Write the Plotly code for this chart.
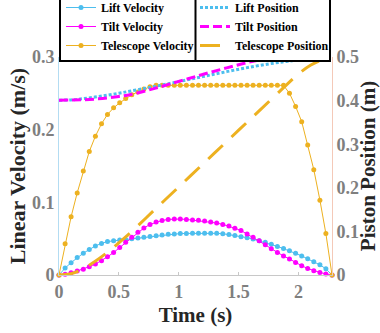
import plotly.graph_objects as go

# ---- data ----
time = [0, 0.051, 0.101, 0.152, 0.203, 0.253, 0.304, 0.355, 0.405, 0.456,
        0.507, 0.557, 0.608, 0.659, 0.709, 0.76, 0.811, 0.861, 0.912, 0.963,
        1.013, 1.064, 1.115, 1.165, 1.216, 1.267, 1.317, 1.368, 1.419, 1.469,
        1.52, 1.571, 1.621, 1.672, 1.723, 1.773, 1.824, 1.875, 1.925, 1.976,
        2.027, 2.077, 2.128, 2.179, 2.229, 2.28]

lift_vel = [0, 0.0095, 0.017, 0.024, 0.030, 0.035, 0.040, 0.0435, 0.046, 0.047,
            0.048, 0.049, 0.050, 0.051, 0.052, 0.053, 0.054, 0.055, 0.056, 0.0565,
            0.057, 0.0572, 0.0574, 0.0575, 0.0575, 0.0575, 0.0573, 0.0568, 0.0556, 0.0542,
            0.0528, 0.0514, 0.0494, 0.047, 0.045, 0.0422, 0.0393, 0.0363, 0.0333, 0.030,
            0.0263, 0.0222, 0.0183, 0.014, 0.0085, 0]

tilt_vel = [0, 0.0012, 0.003, 0.0055, 0.008, 0.0115, 0.015, 0.0197, 0.025, 0.031,
            0.038, 0.045, 0.052, 0.0587, 0.0646, 0.0696, 0.0728, 0.075, 0.0765, 0.077,
            0.077, 0.0765, 0.0756, 0.0752, 0.0742, 0.0728, 0.0715, 0.0696, 0.0673, 0.0643,
            0.0612, 0.0565, 0.0518, 0.0472, 0.0415, 0.0362, 0.031, 0.0262, 0.022, 0.0172,
            0.0128, 0.0089, 0.0057, 0.0035, 0.0015, 0]

tele_vel = [0, 0.043, 0.080, 0.113, 0.143, 0.170, 0.191, 0.208, 0.221, 0.230,
            0.237, 0.243, 0.248, 0.252, 0.256, 0.259, 0.261, 0.261, 0.261, 0.261,
            0.261, 0.261, 0.261, 0.261, 0.261, 0.261, 0.261, 0.261, 0.261, 0.261,
            0.261, 0.261, 0.261, 0.261, 0.261, 0.261, 0.261, 0.261, 0.250, 0.232,
            0.211, 0.179, 0.145, 0.103, 0.057, 0]

pos_time = [0, 0.1, 0.2, 0.3, 0.4, 0.5, 0.6, 0.8, 1.0, 1.2, 1.4, 1.6, 1.8, 1.9,
            2.0, 2.1, 2.2, 2.28]
lift_pos = [0.401, 0.4016, 0.4044, 0.408, 0.4122, 0.417, 0.422, 0.4324, 0.4435,
            0.455, 0.4664, 0.477, 0.4861, 0.4898, 0.4932, 0.4958, 0.4978, 0.4988]
tilt_pos = [0.401, 0.4013, 0.402, 0.4035, 0.406, 0.4095, 0.414, 0.428, 0.444,
            0.460, 0.475, 0.489, 0.499, 0.503, 0.505, 0.506, 0.507, 0.507]
tele_pos = [0, 0.003, 0.014, 0.031, 0.051, 0.074, 0.098, 0.150, 0.202, 0.254,
            0.306, 0.358, 0.410, 0.436, 0.461, 0.481, 0.494, 0.500]

x_ticks = [0, 0.5, 1, 1.5, 2]
x_ticktext = ["0", "0.5", "1", "1.5", "2"]
yl_ticks = [0, 0.1, 0.2, 0.3]
yl_ticktext = ["0", "0.1", "0.2", "0.3"]
yr_ticks = [0, 0.1, 0.2, 0.3, 0.4, 0.5]
yr_ticktext = ["0", "0.1", "0.2", "0.3", "0.4", "0.5"]

# ---- style ----
C_LIFT = "#4DBEEE"
C_TILT = "#FF00FF"
C_TELE = "#EDB120"
FONT = "Times New Roman, Liberation Serif, serif"
TICKFONT = dict(family=FONT, size=18, color="#7f7f7f", weight="bold")
TITLEFONT = dict(family=FONT, size=21, color="#262626", weight="bold")
YTITLEFONT = dict(family=FONT, size=22, color="#262626", weight="bold")

PLOT_H = 333 - 57 - 58  # plot-area height in px
LEG_BOTTOM = 1 - 5 / PLOT_H

fig = go.Figure()

def vel(x, y, name, c):
    return go.Scatter(x=x, y=y, name=name, mode="lines+markers",
                      line=dict(color=c, width=1),
                      marker=dict(size=5, color=c), cliponaxis=False)

def pos(x, y, name, c, dash):
    return go.Scatter(x=x, y=y, name=name, mode="lines", yaxis="y2",
                      line=dict(color=c, width=3, dash=dash, shape="spline"))

fig.add_trace(vel(time, lift_vel, "Lift Velocity", C_LIFT))
fig.add_trace(pos(pos_time, lift_pos, "Lift Position", C_LIFT, "3px,2px"))
fig.add_trace(vel(time, tilt_vel, "Tilt Velocity", C_TILT))
fig.add_trace(pos(pos_time, tilt_pos, "Tilt Position", C_TILT, "9px,4px"))
fig.add_trace(vel(time, tele_vel, "Telescope Velocity", C_TELE))
fig.add_trace(pos(pos_time, tele_pos, "Telescope Position", C_TELE, "20px,12px"))

fig.update_layout(
    width=380, height=333,
    margin=dict(l=59, r=48, t=57, b=58, autoexpand=False),
    paper_bgcolor="white", plot_bgcolor="white",
    showlegend=True,
    legend=dict(orientation="h", x=0, y=LEG_BOTTOM, xanchor="left", yanchor="bottom",
                entrywidth=89, entrywidthmode="pixels", itemwidth=30,
                font=dict(family=FONT, size=12, color="black", weight="bold"),
                bordercolor="black", borderwidth=2, bgcolor="rgba(255,255,255,0)",
                traceorder="normal", tracegroupgap=0),
    xaxis=dict(range=[0, 2.28], tickvals=x_ticks, ticktext=x_ticktext,
               showline=True, linecolor="#c8c8c8", linewidth=1,
               ticks="inside", ticklen=3, tickcolor="#c8c8c8",
               tickfont=TICKFONT, showgrid=False, zeroline=False,
               title=dict(text="Time (s)", font=TITLEFONT, standoff=6)),
    yaxis=dict(range=[0, 0.3], tickvals=yl_ticks, ticktext=yl_ticktext,
               showline=True, linecolor="#b3dcf2", linewidth=1,
               ticks="", tickfont=TICKFONT, showgrid=False, zeroline=False,
               title=dict(text="Linear Velocity (m/s)", font=YTITLEFONT, standoff=0)),
    yaxis2=dict(range=[0, 0.5], tickvals=yr_ticks, ticktext=yr_ticktext,
                overlaying="y", side="right",
                showline=True, linecolor="#f4c9b8", linewidth=1,
                ticks="", tickfont=TICKFONT, showgrid=False, zeroline=False,
                title=dict(text="Piston Position (m)", font=TITLEFONT, standoff=2)),
)

# white legend background (under the transparent legend) and column divider
fig.add_shape(type="rect", xref="paper", yref="paper", x0=0, x1=1,
              y0=LEG_BOTTOM, y1=1.3, fillcolor="white", line=dict(width=0),
              layer="above")
fig.add_shape(type="line", xref="paper", yref="paper", x0=0.5, x1=0.5,
              y0=LEG_BOTTOM, y1=1.3, line=dict(color="black", width=2),
              layer="above")

fig.write_html("out.html")
